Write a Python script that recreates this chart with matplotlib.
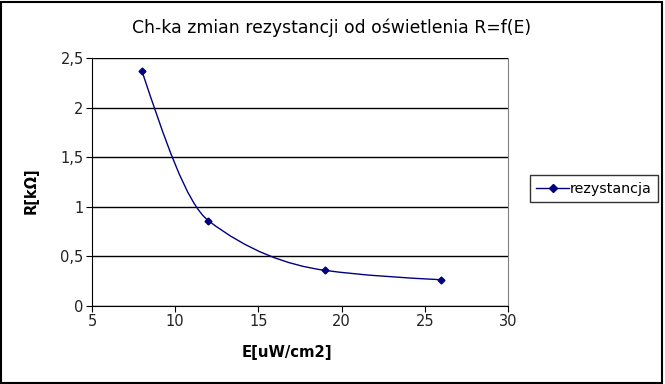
import numpy as np
import matplotlib
matplotlib.use("Agg")
import matplotlib.pyplot as plt
from matplotlib.path import Path
from matplotlib.patches import PathPatch, Rectangle
from matplotlib.lines import Line2D
from matplotlib.ticker import FuncFormatter

plt.rcParams["font.family"] = ["DejaVu Sans"]

# data
E = [8, 12, 19, 26]
R = [2.37, 0.86, 0.36, 0.265]
series_name = "rezystancja"
line_color = "#000080"


def smooth_path(x, y):
    # smoothed line through the points: cubic Bezier segments,
    # monotone (pchip style) slopes inside, free ends
    x = np.asarray(x, float)
    y = np.asarray(y, float)
    n = len(x)
    h = np.diff(x)
    d = np.diff(y) / h
    m = np.zeros(n)
    for i in range(1, n - 1):
        w1 = 2 * h[i] + h[i - 1]
        w2 = h[i] + 2 * h[i - 1]
        m[i] = (w1 + w2) / (w1 / d[i - 1] + w2 / d[i])
    verts = [(x[0], y[0])]
    codes = [Path.MOVETO]
    for i in range(n - 1):
        c1 = np.array([x[i] + h[i] / 3, y[i] + m[i] * h[i] / 3])
        c2 = np.array([x[i + 1] - h[i] / 3, y[i + 1] - m[i + 1] * h[i] / 3])
        p0 = np.array([x[i], y[i]])
        p1 = np.array([x[i + 1], y[i + 1]])
        if i == 0:
            c1 = (p0 + c2) / 2
        if i == n - 2:
            c2 = (p1 + c1) / 2
        verts += [c1, c2, p1]
        codes += [Path.CURVE4] * 3
    return Path(verts, codes)


fig = plt.figure(figsize=(6.65, 3.84), dpi=100)
fig.patch.set_facecolor("white")
fig.patches.append(Rectangle((0.002, 0.003), 0.994, 0.993, transform=fig.transFigure,
                             fill=False, edgecolor="black", linewidth=1.5))

ax = fig.add_axes([0.1383, 0.203, 0.6256, 0.646])
ax.add_patch(PathPatch(smooth_path(E, R), facecolor="none", edgecolor=line_color, linewidth=1))
ax.plot(E, R, linestyle="none", marker="D", markersize=3.5, color=line_color)

ax.set_xlim(5, 30)
ax.set_ylim(0, 2.5)
ax.set_xticks(np.arange(5, 31, 5))
ax.set_yticks(np.arange(0, 2.51, 0.5))
ax.yaxis.set_major_formatter(FuncFormatter(lambda v, pos: f"{v:g}".replace(".", ",")))
ax.grid(axis="y", color="black", linewidth=1)
ax.set_axisbelow(True)
ax.spines["top"].set_visible(False)
ax.spines["right"].set_color("#808080")
ax.tick_params(direction="out", length=4, color="black", labelsize=10.5, pad=2)
for lbl in ax.get_xticklabels() + ax.get_yticklabels():
    lbl.set_color("#222222")

fig.text(0.498, 0.927, "Ch-ka zmian rezystancji od oświetlenia R=f(E)", fontsize=12.4,
         ha="center", va="center")
fig.text(0.432, 0.083, "E[uW/cm2]", fontsize=10.7, fontweight="bold", ha="center", va="center")
fig.text(0.047, 0.503, "R[kΩ]", fontsize=10.5, fontweight="bold", rotation=90,
         ha="center", va="center")

handle = Line2D([], [], color=line_color, marker="D", markersize=4.5, linewidth=1)
leg = fig.legend([handle], [series_name], loc="upper left", bbox_to_anchor=(0.797, 0.544),
                 fontsize=10.3, frameon=True, fancybox=False, handlelength=2.3,
                 handletextpad=0.05, borderpad=0.45, borderaxespad=0)
leg.get_frame().set_edgecolor("black")
leg.get_frame().set_linewidth(1)

fig.savefig("out.png", dpi=100)
